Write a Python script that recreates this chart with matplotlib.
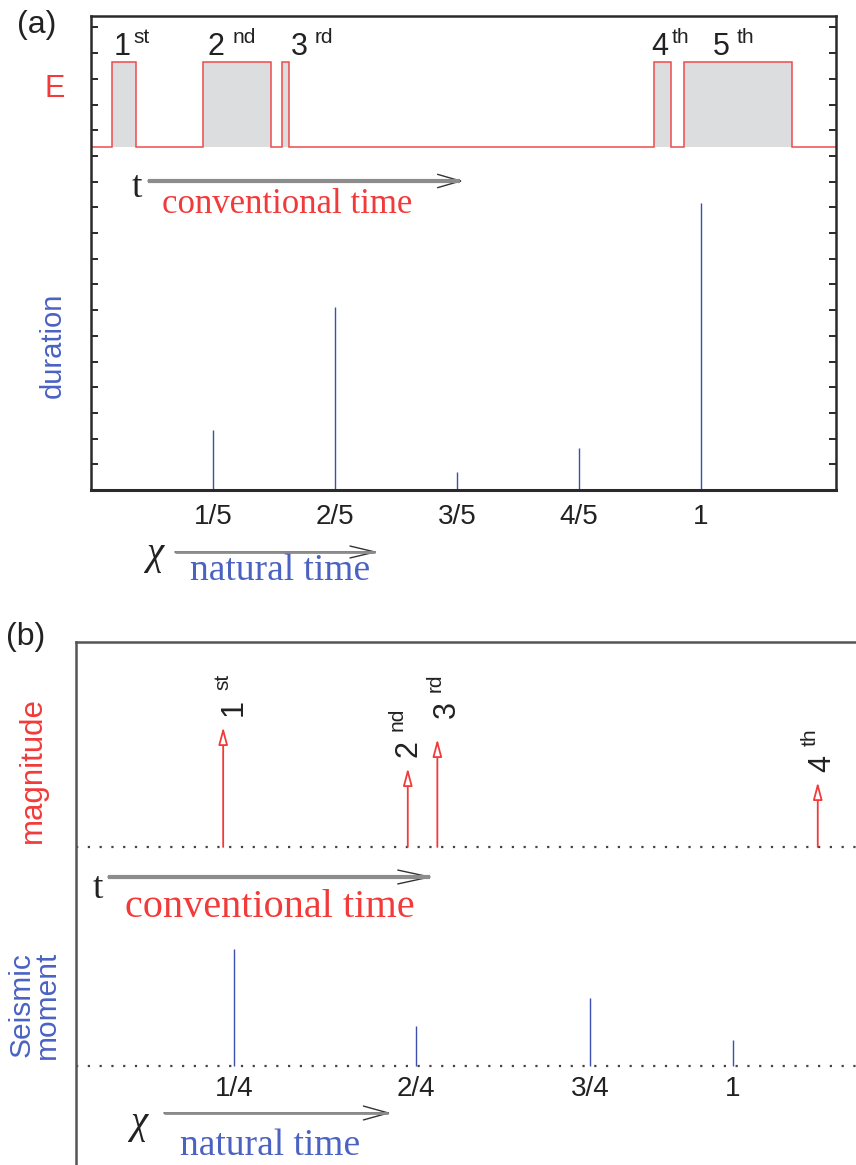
import matplotlib
matplotlib.use("Agg")
import matplotlib.pyplot as plt
import matplotlib.transforms as mtransforms
from matplotlib.patches import FancyArrowPatch
from matplotlib.lines import Line2D

W, H = 856, 1165
SANS = ["Liberation Sans", "DejaVu Sans"]
SERIF = ["Liberation Serif", "DejaVu Serif"]
plt.rcParams["font.family"] = SANS

# ---- Panel (a): energy pulses in conventional time (start, end) ----
pulse_start = [0.034, 0.184, 0.313, 0.923, 0.972]
pulse_end = [0.074, 0.295, 0.325, 0.951, 1.149]
pulse_digits = ["1", "2", "3", "4", "5"]
pulse_suffix = ["st", "nd", "rd", "th", "th"]

# natural-time view: duration of each pulse
chi_a = [1 / 5, 2 / 5, 3 / 5, 4 / 5, 1.0]
chi_a_labels = ["1/5", "2/5", "3/5", "4/5", "1"]
duration = [2.33, 7.12, 0.70, 1.63, 11.17]

# ---- Panel (b): earthquakes in conventional time and their magnitude ----
quake_time = [0.224, 0.505, 0.550, 1.129]
magnitude = [120, 79, 108, 65]
quake_digits = ["1", "2", "3", "4"]
quake_suffix = ["st", "nd", "rd", "th"]

# natural-time view: seismic moment of each event
chi_b = [0.241, 0.518, 0.782, 1.0]
chi_b_labels = ["1/4", "2/4", "3/4", "1"]
moment = [117, 40, 68, 26]

# ---- styling ----
RED = "#f23a3a"
TRACE_RED = "#ee4c4c"
BLUE_STEM = "#3b4fb2"
BLUE_TXT = "#4a62c2"
FILL_GRAY = "#dcdddf"
DARK = "#2a2a2a"

fig = plt.figure(figsize=(W / 100, H / 100), dpi=100)
# pixel coordinates with origin at the top-left corner
pix = mtransforms.Affine2D().scale(1 / W, -1 / H).translate(0, 1) + fig.transFigure


def label(x, y, s, **kw):
    return fig.text(x, y, s, transform=pix, **kw)


def time_arrow(x0, x1, y, shaft_lw, head_len, head_w):
    fig.add_artist(Line2D([x0, x1 - 3], [y, y], transform=pix, color="#8c8c8c",
                          lw=shaft_lw, solid_capstyle="butt"))
    fig.add_artist(FancyArrowPatch((x0, y), (x1, y), transform=pix,
                                   arrowstyle=f"->,head_length={head_len},head_width={head_w}",
                                   mutation_scale=1, lw=1.0, color="#333333",
                                   shrinkA=0, shrinkB=0))


# =================== panel (a) ===================
ax_a = fig.add_axes([91 / W, 1 - 490 / H, 745 / W, 474 / H])
XMAX_A = 745 / 610
ax_a.set_xlim(0, XMAX_A)
ax_a.set_ylim(0, 474 / 25.7)
E_LOW, E_HIGH = 13.35, 16.65

xs, ys = [0], [E_LOW]
for s, e in zip(pulse_start, pulse_end):
    ax_a.fill_between([s, e], E_LOW, E_HIGH, color=FILL_GRAY, lw=0)
    xs += [s, s, e, e]
    ys += [E_LOW, E_HIGH, E_HIGH, E_LOW]
xs.append(XMAX_A)
ys.append(E_LOW)
ax_a.plot(xs, ys, color=TRACE_RED, lw=1.1, solid_joinstyle="miter")

ax_a.vlines(chi_a, 0, duration, color=BLUE_STEM, lw=1.0)

ax_a.set_xticks(chi_a, chi_a_labels)
ax_a.set_yticks(range(1, 19))
ax_a.tick_params(axis="x", length=0, pad=10, labelsize=20, labelcolor="#222222")
ax_a.tick_params(axis="y", direction="in", left=True, right=True, labelleft=False,
                 length=5, width=1.4, color=DARK)
for side in ax_a.spines.values():
    side.set_linewidth(1.8)
    side.set_color(DARK)
ax_a.spines["bottom"].set_linewidth(2.2)

label(17, 33, "(a)", fontsize=23, ha="left", va="baseline", color="#222222")
label(55, 97, "E", fontsize=22, ha="center", va="baseline", color=RED)
label(53, 345, "duration", fontsize=21, rotation=90, ha="center", va="center",
      color=BLUE_TXT)

ord_a_x = [114, 208, 291, 651, 713]
ord_a_dx = [19, 25, 24, 21, 24]
for x, dx, d, s in zip(ord_a_x, ord_a_dx, pulse_digits, pulse_suffix):
    label(x, 55, d, fontsize=22, ha="left", va="baseline", color="#222222")
    label(x + dx, 43, s, fontsize=15, ha="left", va="baseline", color="#222222")

label(132, 197, "t", fontsize=27, family=SERIF, ha="left", va="baseline", color="#222222")
time_arrow(148, 463, 181, 3.0, 16.5, 4.8)
label(162, 213, "conventional time", fontsize=25, family=SERIF, ha="left",
      va="baseline", color=RED)

label(146, 564, "\u03c7", fontsize=28, family=SERIF, style="italic", ha="left",
      va="baseline", color="#222222")
time_arrow(175, 378, 552, 2.0, 18, 4.3)
label(190, 580, "natural time", fontsize=27, family=SERIF, ha="left", va="baseline",
      color=BLUE_TXT)

# =================== panel (b) ===================
ax_b = fig.add_axes([76 / W, 0, 780 / W, 523 / H])
ax_b.set_xlim(0, 780 / 657)
ax_b.set_ylim(0, 523)
MAG_BASE, MOM_BASE = 318, 99

dots = dict(color="#444444", lw=1.6, linestyle=(0, (1, 4.3)))
ax_b.axhline(MAG_BASE, **dots)
ax_b.axhline(MOM_BASE, **dots)

for t, m in zip(quake_time, magnitude):
    ax_b.annotate("", xy=(t, MAG_BASE + m), xytext=(t, MAG_BASE),
                  arrowprops=dict(arrowstyle="-|>,head_length=0.75,head_width=0.2",
                                  mutation_scale=14, ec=RED, fc="white", lw=1.3,
                                  shrinkA=0, shrinkB=0))

ax_b.vlines(chi_b, MOM_BASE, [MOM_BASE + v for v in moment], color=BLUE_STEM, lw=1.0)
for x, s in zip(chi_b, chi_b_labels):
    ax_b.annotate(s, (x, MOM_BASE), xytext=(0, -7), textcoords="offset points",
                  ha="center", va="top", fontsize=20, color="#222222")

ax_b.set_xticks([])
ax_b.set_yticks([])
ax_b.spines["right"].set_visible(False)
ax_b.spines["bottom"].set_visible(False)
for k in ("left", "top"):
    ax_b.spines[k].set_linewidth(1.8)
    ax_b.spines[k].set_color("#555555")

label(6, 645, "(b)", fontsize=23, ha="left", va="baseline", color="#222222")
label(33, 770, "magnitude", fontsize=22.5, rotation=90, ha="center", va="center", color=RED)
label(34, 1005, "Seismic\nmoment", fontsize=21.5, rotation=90, ha="center", va="center",
      linespacing=0.9, color=BLUE_TXT)

ord_b_pos = [(242, 716), (417, 757), (455, 718), (830, 772)]
for (bx, sy), d, s in zip(ord_b_pos, quake_digits, quake_suffix):
    label(bx, sy, d, fontsize=22, rotation=90, rotation_mode="anchor",
          ha="left", va="baseline", color="#222222")
    label(bx - 14, sy - 26, s, fontsize=15, rotation=90, rotation_mode="anchor",
          ha="left", va="baseline", color="#222222")

label(93, 898, "t", fontsize=27, family=SERIF, ha="left", va="baseline", color="#222222")
time_arrow(108, 433, 877, 3.0, 23, 5)
label(125, 917, "conventional time", fontsize=29, family=SERIF, ha="left",
      va="baseline", color=RED)

label(130, 1133, "\u03c7", fontsize=28, family=SERIF, style="italic", ha="left",
      va="baseline", color="#222222")
time_arrow(164, 391, 1113, 2.0, 18, 5)
label(180, 1155, "natural time", fontsize=27, family=SERIF, ha="left", va="baseline",
      color=BLUE_TXT)

fig.savefig("out.png", dpi=100)
